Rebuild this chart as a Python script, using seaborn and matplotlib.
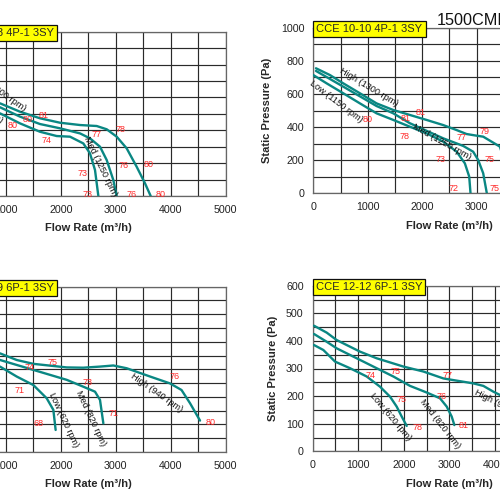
import numpy as np
import pandas as pd
import matplotlib
matplotlib.use("Agg")
import matplotlib.pyplot as plt
from matplotlib.ticker import MultipleLocator
import seaborn as sns

# fan curves: flow (m3/h) vs static pressure (Pa)
# CCE 10-8 4P-1 3SY (top left)
tl_high_q = [893, 1257, 1621, 1985, 2350, 2654, 2836, 3018, 3200, 3382, 3534, 3637]
tl_high_p = [564, 513, 473, 446, 432, 426, 406, 361, 290, 178, 77, 0]
tl_med_q = [893, 1257, 1621, 1985, 2350, 2531, 2714, 2836, 2957, 3018]
tl_med_p = [540, 483, 438, 412, 381, 351, 300, 219, 97, 0]
tl_low_q = [893, 1257, 1621, 1925, 2168, 2410, 2531, 2623, 2684]
tl_low_p = [503, 442, 391, 365, 361, 320, 260, 158, 0]

# CCE 10-10 4P-1 3SY (top right)
tr_high_q = [49, 306, 551, 857, 1163, 1470, 1776, 2082, 2388, 2633, 2817, 3001, 3123, 3276, 3429, 3560, 3680]
tr_high_p = [755, 714, 664, 604, 543, 503, 473, 443, 412, 382, 358, 348, 342, 312, 282, 150, 0]
tr_med_q = [49, 551, 1163, 1470, 1776, 2388, 2756, 2939, 3031, 3123, 3190]
tr_med_p = [739, 644, 527, 483, 423, 332, 286, 251, 201, 121, 0]
tr_low_q = [0, 245, 551, 857, 1163, 1470, 1776, 2082, 2388, 2633, 2786, 2866, 2890]
tr_low_p = [714, 664, 604, 543, 483, 443, 402, 362, 312, 252, 181, 101, 0]

# CCE 10-9 6P-1 3SY (bottom left)
bl_high_q = [893, 1196, 1500, 2107, 2410, 2714, 2957, 3200, 3625, 3989, 4199, 4354, 4536]
bl_high_p = [358, 334, 320, 307, 306, 310, 314, 304, 274, 249, 225, 177, 114]
bl_med_q = [893, 1196, 1500, 2107, 2410, 2623, 2714, 2775]
bl_med_p = [334, 316, 298, 262, 237, 219, 189, 104]
bl_low_q = [893, 1196, 1500, 1743, 1864, 1906]
bl_low_p = [310, 274, 243, 195, 153, 80]

# CCE 12-12 6P-1 3SY (bottom right)
br_high_q = [29, 307, 527, 1039, 1404, 1990, 2429, 2868, 3160, 3526, 3745, 3965, 4111, 4400]
br_high_p = [455, 430, 403, 361, 337, 307, 289, 264, 256, 246, 237, 216, 204, 170]
br_med_q = [29, 307, 527, 1039, 1404, 1770, 2136, 2502, 2794, 2941, 3050, 3109]
br_med_p = [425, 397, 373, 331, 301, 271, 237, 213, 192, 162, 126, 95]
br_low_q = [29, 234, 490, 819, 1185, 1478, 1697, 1843, 1953, 2063]
br_low_p = [385, 367, 325, 301, 271, 234, 198, 162, 126, 92]

# sound levels dB(A) marked along the curves: (flow, pressure, value)
tl_db = [(1683, 493, "81"), (1396, 467, "80"), (1117, 428, "80"), (1743, 337, "74"),
         (2654, 375, "77"), (3079, 402, "78"), (3150, 183, "76"), (3594, 193, "80"),
         (2393, 138, "73"), (2484, 12, "73"), (3290, 12, "76"), (3819, 12, "80")]
tr_db = [(1978, 489, "81"), (1696, 449, "81"), (992, 443, "80"), (1672, 342, "78"),
         (2725, 336, "77"), (3154, 376, "79"), (3233, 205, "75"), (2345, 205, "73"),
         (2572, 30, "72"), (3337, 30, "75")]
bl_db = [(1852, 326, "75"), (1427, 307, "74"), (2490, 252, "73"), (1239, 223, "71"),
         (4080, 274, "76"), (2957, 140, "71"), (1591, 104, "68"), (4730, 108, "80")]
br_db = [(1273, 274, "74"), (1807, 289, "75"), (2955, 274, "77"), (1953, 188, "75"),
         (2831, 200, "76"), (2297, 87, "78"), (3321, 93, "81")]

# curve names: (flow, pressure, text, angle)
tl_names = [(856, 645, "High (1300 rpm)", -35), (455, 569, "Low (1150 rpm)", -37),
            (2714, 178, "Med (1250 rpm)", -64)]
tr_names = [(1016, 640, "High (1300 rpm)", -31), (416, 553, "Low (1150 rpm)", -37),
            (2358, 312, "Med (1250 rpm)", -29)]
bl_names = [(3746, 213, "High (940 rpm)", -35), (2046, 116, "Low (620 rpm)", -65),
            (2544, 122, "Med (820 rpm)", -65)]
br_names = [(4150, 165, "High (940 rpm)", -27), (1697, 126, "Low (620 rpm)", -50),
            (2794, 101, "Med (820 rpm)", -52)]

sns.set_style("white")
plt.rcParams["font.family"] = ["Liberation Sans", "DejaVu Sans"]

teal = "#0a8783"
grid_c = "#2a2a2a"


def make_df(high, med, low):
    parts = []
    for name, (q, p) in zip(["High", "Med", "Low"], [high, med, low]):
        parts.append(pd.DataFrame({"flow": q, "pressure": p, "speed": name}))
    return pd.concat(parts, ignore_index=True)


panels = [
    dict(pos=[-0.098, 0.608, 0.549, 0.3286], title="CCE 10-8 4P-1 3SY", xmax=5000, ymax=1000,
         ymaj=200, ymin=100, df=make_df((tl_high_q, tl_high_p), (tl_med_q, tl_med_p), (tl_low_q, tl_low_p)),
         db=tl_db, names=tl_names),
    dict(pos=[0.6266, 0.6134, 0.544, 0.3312], title="CCE 10-10 4P-1 3SY", xmax=5000, ymax=1000,
         ymaj=200, ymin=100, df=make_df((tr_high_q, tr_high_p), (tr_med_q, tr_med_p), (tr_low_q, tr_low_p)),
         db=tr_db, names=tr_names),
    dict(pos=[-0.098, 0.096, 0.549, 0.3306], title="CCE 10-9 6P-1 3SY", xmax=5000, ymax=600,
         ymaj=100, ymin=50, df=make_df((bl_high_q, bl_high_p), (bl_med_q, bl_med_p), (bl_low_q, bl_low_p)),
         db=bl_db, names=bl_names),
    dict(pos=[0.6254, 0.0974, 0.5468, 0.3312], title="CCE 12-12 6P-1 3SY", xmax=6000, ymax=600,
         ymaj=100, ymin=50, df=make_df((br_high_q, br_high_p), (br_med_q, br_med_p), (br_low_q, br_low_p)),
         db=br_db, names=br_names),
]

fig = plt.figure(figsize=(5, 5), dpi=100)

for pan in panels:
    ax = fig.add_axes(pan["pos"])
    sns.lineplot(data=pan["df"], x="flow", y="pressure", hue="speed",
                 palette=[teal, teal, teal], sort=False, estimator=None,
                 legend=False, linewidth=1.7, ax=ax, zorder=3)
    ax.set_xlim(0, pan["xmax"])
    ax.set_ylim(0, pan["ymax"])
    ax.xaxis.set_major_locator(MultipleLocator(1000))
    ax.xaxis.set_minor_locator(MultipleLocator(500))
    ax.yaxis.set_major_locator(MultipleLocator(pan["ymaj"]))
    ax.yaxis.set_minor_locator(MultipleLocator(pan["ymin"]))
    ax.grid(True, which="both", color=grid_c, linewidth=0.85)
    ax.set_axisbelow(True)
    ax.tick_params(which="major", length=2.5, width=0.8, color="#555555",
                   labelsize=7.7, labelcolor="#222222", pad=4)
    ax.tick_params(which="minor", length=0)
    for s in ax.spines.values():
        s.set_color("#666666")
        s.set_linewidth(0.9)
    ax.set_xlabel("Flow Rate (m\u00b3/h)", fontsize=8, fontweight="bold", labelpad=6)
    ax.set_ylabel("Static Pressure (Pa)", fontsize=8, fontweight="bold", labelpad=6)

    for q, p, t in pan["db"]:
        ax.text(q, p, t, color="#ff2a2a", fontsize=6.5, ha="center", va="center", zorder=4)
    for q, p, t, r in pan["names"]:
        ax.text(q, p, t, color="#111111", fontsize=6.6, ha="center", va="center",
                rotation=r, rotation_mode="anchor", zorder=4)

    ax.annotate(pan["title"], xy=(0, 1), xycoords="axes fraction",
                xytext=(2.2, -1.0), textcoords="offset points",
                ha="left", va="center", fontsize=8, zorder=6,
                bbox=dict(boxstyle="square,pad=0.28", facecolor="#ffff00",
                          edgecolor="#111111", linewidth=0.9))

fig.text(0.874, 0.95, "1500CMH", fontsize=11.7, ha="left", va="baseline", color="#111111")

fig.savefig("out.png", dpi=100)
